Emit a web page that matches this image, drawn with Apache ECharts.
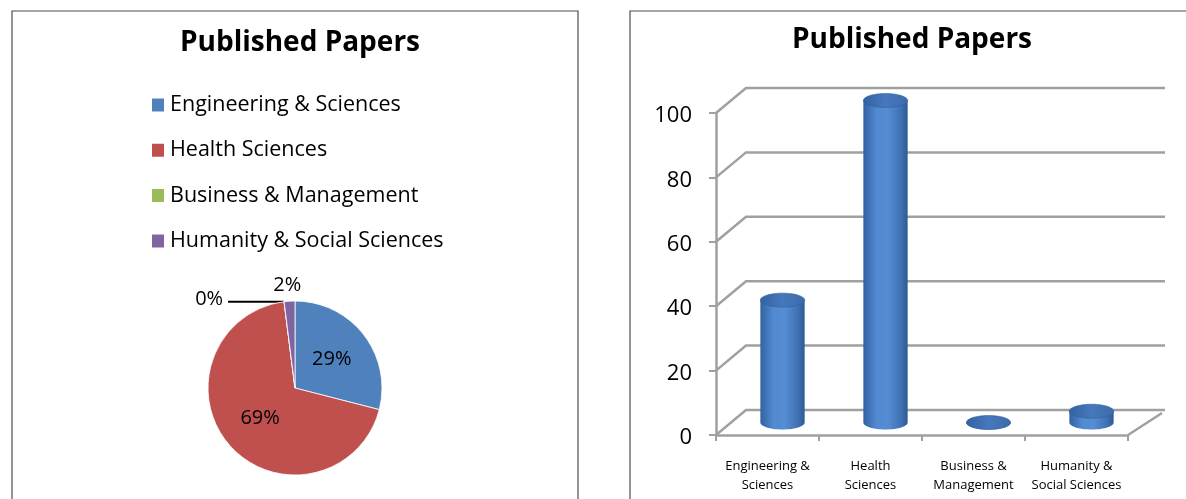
<!DOCTYPE html>
<html>
<head>
<meta charset="utf-8">
<script src="https://cdn.jsdelivr.net/npm/echarts@6/dist/echarts.min.js"></script>
<style>
html,body{margin:0;padding:0;background:#fff;}
#c{width:1186px;height:499px;}
</style>
</head>
<body>
<div id="c"></div>
<script>
// ---- data ----
var categories = ['Engineering & Sciences', 'Health Sciences', 'Business & Management', 'Humanity & Social Sciences'];
var pieShares = [29, 69, 0, 2];          // percent labels shown on the pie
var barValues = [38, 100, 0, 3.5];       // published papers (bar chart)
var yTicks = [0, 20, 40, 60, 80, 100];
var titleText = 'Published Papers';

var pieColors = ['#4f81bd', '#c0504d', '#9bbb59', '#8064a2'];
var FONT = '"Open Sans", Lato, sans-serif';
var DX = 30, DY = -25; // 3D depth offset (px)

var chart = echarts.init(document.getElementById('c'), null, {renderer: 'canvas'});

function ellipsePts(cx, cy, rx, ry, a0, a1, n) {
  var pts = [];
  for (var k = 0; k <= n; k++) {
    var a = a0 + (a1 - a0) * k / n;
    pts.push([cx + rx * Math.cos(a), cy + ry * Math.sin(a)]);
  }
  return pts;
}

var pieData = categories.map(function (name, i) {
  var item = {name: name, value: pieShares[i], itemStyle: {color: pieColors[i]}};
  if (i === 0 || i === 1) {
    item.label = {position: 'inside'};
  } else if (i === 2) {
    item.label = {position: 'outside'};
    item.labelLine = {show: true, length: 0, length2: 56, lineStyle: {color: '#000', width: 2}};
  } else {
    item.label = {position: 'outside'};
    item.labelLine = {show: false, length: 4, length2: 0};
  }
  return item;
});

var option = {
  animation: false,
  backgroundColor: '#fff',
  graphic: [
    {type: 'rect', shape: {x: 12, y: 11, width: 566, height: 520}, style: {fill: 'none', stroke: '#4d4d4d', lineWidth: 1.2}, silent: true, z: -10},
    {type: 'rect', shape: {x: 630, y: 11, width: 600, height: 520}, style: {fill: 'none', stroke: '#4d4d4d', lineWidth: 1.2}, silent: true, z: -10}
  ],
  title: [
    {text: titleText, left: 295, top: 24, textAlign: 'center',
     textStyle: {fontFamily: FONT, fontSize: 28, fontWeight: 'bold', color: '#000'}},
    {text: titleText, left: 907, top: 21, textAlign: 'center',
     textStyle: {fontFamily: FONT, fontSize: 28, fontWeight: 'bold', color: '#000'}}
  ],
  legend: {
    data: categories,
    orient: 'vertical',
    left: 145,
    top: 89,
    icon: 'rect',
    itemWidth: 14,
    itemHeight: 15,
    itemGap: 23.3,
    textStyle: {fontFamily: FONT, fontSize: 21.5, color: '#000'},
    selectedMode: false
  },
  grid: {left: 716, top: 113, width: 412, height: 322},
  xAxis: {
    type: 'category',
    data: categories,
    boundaryGap: true,
    axisLine: {show: true, lineStyle: {color: '#a0a0a0', width: 2.5}},
    axisTick: {show: true, length: 6, lineStyle: {color: '#a0a0a0', width: 2}},
    axisLabel: {
      interval: 0,
      fontFamily: FONT, fontSize: 13, color: '#000', margin: 22, lineHeight: 19,
      formatter: function (v) {
        return v.indexOf(' & ') >= 0 ? v.replace(' & ', ' &\n') : v.replace(' ', '\n');
      }
    },
    splitLine: {show: false}
  },
  yAxis: {
    type: 'value',
    min: 0, max: 100, interval: 20,
    axisLine: {show: true, lineStyle: {color: '#a0a0a0', width: 2.5}},
    axisTick: {show: true, length: 7, lineStyle: {color: '#a0a0a0', width: 2}},
    axisLabel: {
      margin: 24,
      formatter: '{n|{value}}',
      rich: {n: {fontFamily: FONT, fontSize: 22, color: '#000', padding: [6, 0, 0, 0]}}
    },
    splitLine: {show: false}
  },
  series: [
    {
      type: 'pie',
      name: 'Published Papers',
      center: [295, 388],
      radius: 87,
      startAngle: 90,
      clockwise: true,
      avoidLabelOverlap: false,
      silent: true,
      itemStyle: {borderColor: '#fff', borderWidth: 0.8},
      label: {
        show: true,
        fontFamily: FONT, fontSize: 20, color: '#000',
        formatter: function (p) { return Math.round(p.percent) + '%'; }
      },
      labelLayout: function (p) {
        if (p.dataIndex === 3) return {align: 'center', verticalAlign: 'bottom', dx: 3, dy: -2};
        if (p.dataIndex === 2) return {verticalAlign: 'bottom', dy: 8};
        return {};
      },
      data: pieData
    },
    {
      type: 'custom',
      name: 'walls',
      silent: true,
      z: 1,
      data: yTicks.map(function (v) { return [0, v]; }),
      renderItem: function (params, api) {
        var cs = params.coordSys;
        var v = api.value(1);
        var y = api.coord([0, v])[1];
        var x0 = cs.x, x1 = cs.x + cs.width;
        var st = {stroke: '#a0a0a0', lineWidth: 2.5, fill: null};
        var children = [
          {type: 'polyline', shape: {points: [[x0, y], [x0 + DX, y + DY], [x1 + DX + 7, y + DY]]}, style: st}
        ];
        if (v === 0) {
          children.push({type: 'line', shape: {x1: x1, y1: y, x2: x1 + DX + 4, y2: y + DY + 3}, style: st});
        }
        return {type: 'group', children: children};
      }
    },
    {
      type: 'custom',
      name: 'Published Papers',
      silent: true,
      z: 3,
      data: barValues.map(function (v, i) { return [i, v]; }),
      renderItem: function (params, api) {
        var i = api.value(0), v = api.value(1);
        var base = api.coord([i, 0]);
        var top = api.coord([i, v]);
        var bw = api.size([1, 0])[0];
        var rx = bw * 0.215, ry = 7;
        var cx = base[0] + DX / 2;
        var yb = base[1] + DY / 2, yt = top[1] + DY / 2;
        var body = [[cx - rx, yt]]
          .concat(ellipsePts(cx, yb, rx, ry, Math.PI, 0, 30))
          .concat([[cx + rx, yt]]);
        var bodyFill = new echarts.graphic.LinearGradient(0, 0, 1, 0, [
          {offset: 0, color: '#3262a2'},
          {offset: 0.3, color: '#528ad2'},
          {offset: 0.55, color: '#558dd3'},
          {offset: 0.85, color: '#3f71b3'},
          {offset: 1, color: '#2d5a95'}
        ]);
        var topFill = new echarts.graphic.LinearGradient(0, 0, 1, 0, [
          {offset: 0, color: '#3262a3'},
          {offset: 0.5, color: '#4678bb'},
          {offset: 1, color: '#3c6bab'}
        ]);
        return {
          type: 'group',
          children: [
            {type: 'polygon', shape: {points: body}, style: {fill: bodyFill}},
            {type: 'polygon', shape: {points: ellipsePts(cx, yt, rx, ry, 0, Math.PI * 2, 48)}, style: {fill: topFill, stroke: '#335f9c', lineWidth: 0.6}}
          ]
        };
      }
    }
  ]
};
chart.setOption(option);
</script>
</body>
</html>
